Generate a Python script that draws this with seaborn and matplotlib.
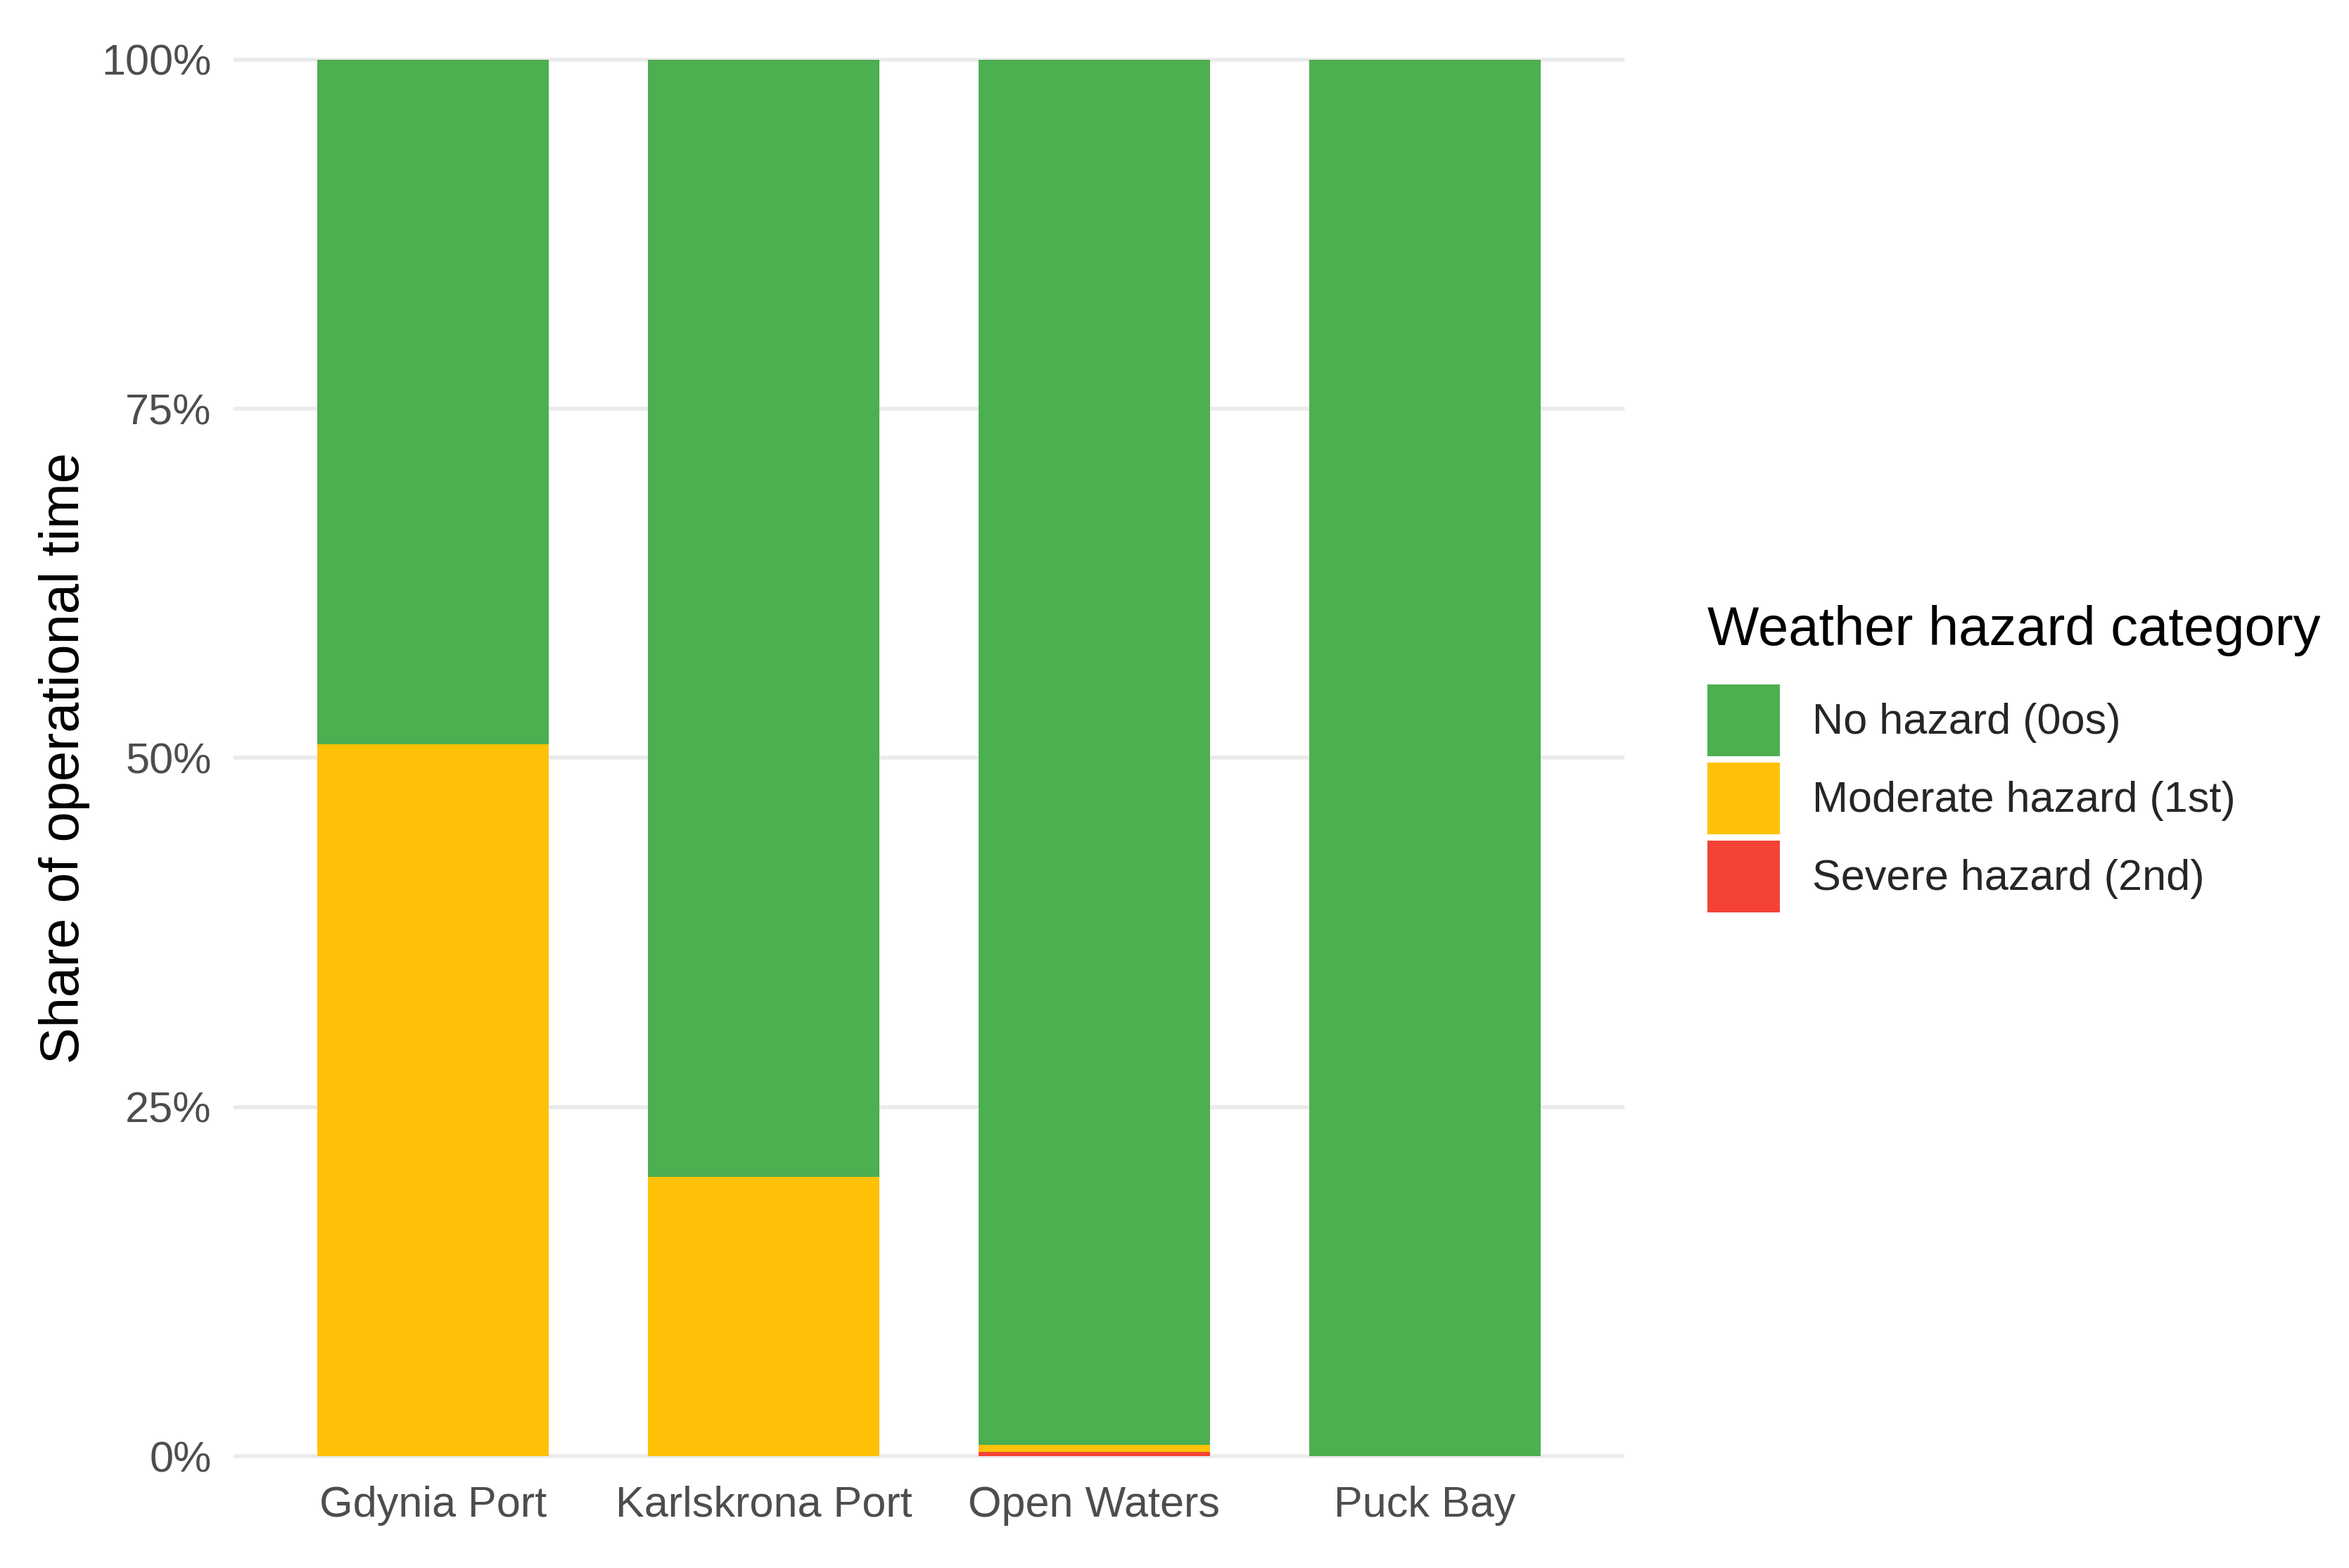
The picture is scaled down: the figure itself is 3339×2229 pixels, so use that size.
import matplotlib

matplotlib.use("Agg")

import matplotlib.pyplot as plt
import matplotlib.ticker as mticker
import pandas as pd
import seaborn as sns
from matplotlib.patches import Patch

# Share of operational time by location and hazard category
LOCATIONS  = ["Gdynia Port", "Karlskrona Port", "Open Waters", "Puck Bay"]
CATEGORIES = ["No hazard (0os)", "Moderate hazard (1st)", "Severe hazard (2nd)"]
NO_HAZARD  = [0.49, 0.80, 0.992, 1.00]
MODERATE   = [0.51, 0.20, 0.005, 0.00]
SEVERE     = [0.00, 0.00, 0.003, 0.00]
Y_TICKS    = [0, 0.25, 0.5, 0.75, 1.0]

COLORS = {"No hazard (0os)": "#4CAF50",
          "Moderate hazard (1st)": "#FFC107",
          "Severe hazard (2nd)": "#F44336"}

df = pd.DataFrame({
    "location": LOCATIONS * 3,
    "category": [c for c in CATEGORIES for _ in LOCATIONS],
    "share":    NO_HAZARD + MODERATE + SEVERE,
})

sns.set_theme(style="whitegrid")
plt.rcParams["font.family"] = ["Liberation Sans", "DejaVu Sans"]

fig = plt.figure(figsize=(16.695, 11.145), dpi=200)
ax = fig.add_axes([0.100, 0.0713, 0.591, 0.8907])

# first hue level ends up on top of the stack
sns.histplot(data=df, x="location", weights="share", hue="category",
             hue_order=CATEGORIES, palette=COLORS, multiple="stack",
             discrete=True, shrink=0.7, linewidth=0, alpha=1,
             legend=False, ax=ax)

ax.set_xlim(-0.6, 3.6)
ax.set_ylim(0, 1.0)
ax.set_yticks(Y_TICKS)
ax.yaxis.set_major_formatter(mticker.FuncFormatter(lambda y, _: f"{y * 100:.0f}%"))
ax.set_xticks(range(len(LOCATIONS)))
ax.set_xticklabels(LOCATIONS)

ax.grid(axis="x", visible=False)
ax.grid(axis="y", color="#EBEBEB", linewidth=2.0)
ax.set_axisbelow(True)
for s in ax.spines.values():
    s.set_visible(False)
for line in ax.get_ygridlines():
    line.set_clip_on(False)

ax.tick_params(axis="y", labelsize=22, labelcolor="#4D4D4D", pad=12, length=0)
ax.tick_params(axis="x", labelsize=22, labelcolor="#4D4D4D", pad=15, length=0)
ax.set_xlabel("")
ax.set_ylabel("Share of operational time", fontsize=28, color="black", labelpad=6)

# legend title drawn separately so its gap to the keys can be set freely
fig.text(0.727, 0.598, "Weather hazard category", fontsize=28,
         color="black", ha="left", va="center")
handles = [Patch(facecolor=COLORS[c], edgecolor="none", label=c) for c in CATEGORIES]
fig.legend(handles=handles, loc="upper left", bbox_to_anchor=(0.727, 0.5635),
           frameon=False, fontsize=22, handlelength=1.68, handleheight=2.2,
           labelspacing=0.14, handletextpad=0.75, borderpad=0,
           borderaxespad=0)

fig.savefig("out.png", dpi=200)
plt.close(fig)
